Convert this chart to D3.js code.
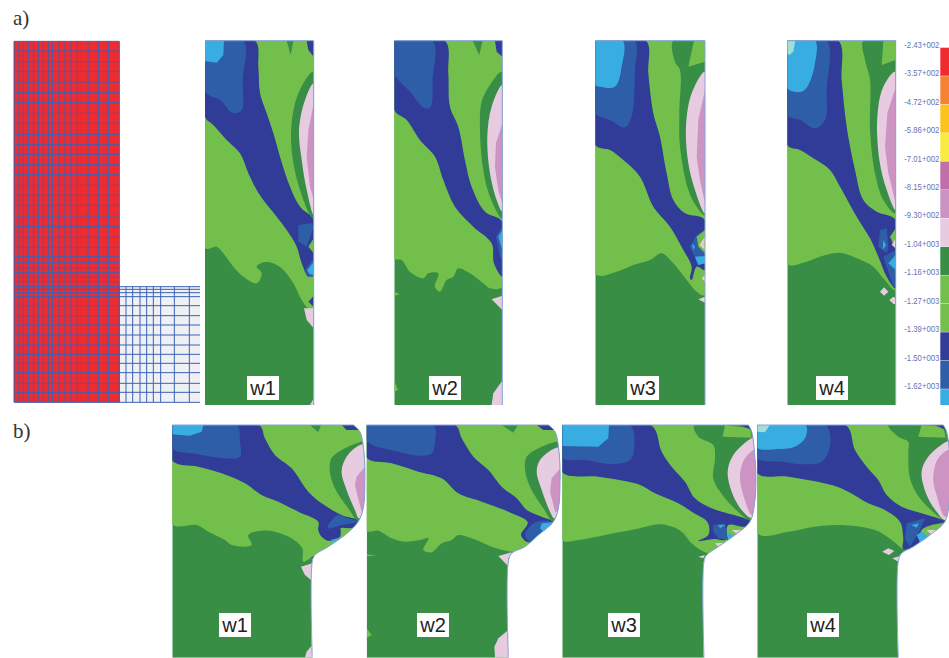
<!DOCTYPE html>
<html><head><meta charset="utf-8">
<script src="https://cdn.jsdelivr.net/npm/d3@7"></script>
<style>html,body{margin:0;padding:0;background:#fff}svg{display:block}</style>
</head><body><svg id="c" width="949" height="658"></svg>
<script>
// Legend
const legendTicks=["-2.43+002","-3.57+002","-4.72+002","-5.86+002","-7.01+002","-8.15+002","-9.30+002","-1.04+003","-1.16+003","-1.27+003","-1.39+003","-1.50+003","-1.62+003"];
const legendColors=["#ef2b30","#f58232","#fcc31c","#f9ec40","#c06fab","#cb93c3","#e6cbe1","#388e45","#72bf4b","#72bf4b","#313b98","#2f5ea8","#38ade2"];
const palette={dg:"#388e45",lg:"#72bf4b",nv:"#313b98",bl:"#2f5ea8",cy:"#38ade2",pa:"#e6cbe1",ma:"#cc93c3",te:"#a3dcd8",ye:"#fcc31c"};
// Mesh lines
const meshX=[42,57,70,85,100,115,130,145,158,177,195,213,232,264,295,325,358];
const meshGreyX=[358,378,398,420,440,460,482,523,568];
const meshY=[124,153,185,215,246,278,308,340,370,403,433,463,494,524,556,586,616,648,680,712,742,770,788,803,818,832,845,860,868,878,890,917,947,975,1005,1035,1063,1090,1118,1150,1177,1207];

// Contour bands per panel (flat x,y lists in read-off picture units)
const a1=[
["lg",[615,122,941,122,941,925,925,925,905,900,880,850,850,810,820,790,790,787,770,800,785,820,770,850,730,830,700,800,670,760,650,740,615,745]],
["nv",[615,122,765,122,775,200,780,280,800,340,820,400,840,470,870,560,900,620,941,660,941,800,925,830,905,790,890,740,860,690,830,650,790,600,770,570,745,520,720,460,680,420,640,375,615,350]],
["bl",[615,122,730,122,728,240,725,330,700,340,660,300,615,275]],
["cy",[615,122,672,122,670,165,650,188,615,183]],
["dg",[860,122,880,122,872,165]],["nv",[920,122,941,122,941,170,925,150]],
["dg",[941,215,910,250,885,310,873,400,880,490,900,570,930,645,941,655]],
["pa",[941,250,915,300,897,390,905,480,920,570,941,645]],
["ma",[941,310,925,390,920,470,930,560,941,600]],
["bl",[895,675,935,670,941,680,920,740,895,725]],
["lg",[941,715,925,740,941,760]],
["bl",[915,810,941,775,941,830,925,830]],["cy",[922,810,941,785,941,825,928,822]],
["nv",[941,888,925,905,941,920]],
["pa",[912,925,941,925,941,985,920,960]],
["pa",[941,1195,930,1215,941,1215]]];
const a2=[
["lg",[13,32,337,32,337,770,300,775,280,760,240,730,205,715,190,740,170,750,150,785,135,770,145,730,115,730,100,745,60,725,35,690,13,685]],
["lg",[13,785,30,793,13,797]],["lg",[13,1050,24,1080,13,1085]],
["nv",[13,32,165,32,175,130,180,230,205,290,225,390,245,470,285,545,337,575,337,740,312,700,305,640,250,590,195,530,160,450,135,380,90,330,50,270,13,240]],
["bl",[13,32,128,32,128,150,122,230,105,235,60,185,13,130]],
["dg",[248,32,278,32,268,75]],["nv",[315,32,337,32,337,80,320,65]],
["dg",[337,125,300,165,275,215,270,300,280,420,300,500,337,565]],
["pa",[337,165,305,230,292,320,300,430,320,510,337,545]],
["ma",[337,280,318,340,315,410,325,480,337,520]],
["bl",[337,590,318,620,330,680,337,690]],["cy",[337,600,325,620,337,660]],
["pa",[305,808,337,797,337,840]],["pa",[337,1052,310,1090,305,1125,337,1125]]];
const a3=[
["lg",[616,32,945,32,945,795,920,785,890,750,850,700,815,670,780,690,730,705,680,725,616,732]],
["dg",[850,32,945,32,945,555,920,530,895,480,870,350,868,250,870,120,855,95]],
["lg",[912,32,945,32,945,95,895,110]],
["pa",[945,125,905,190,888,290,895,400,915,480,945,550]],
["ma",[945,180,925,270,920,380,930,450,945,520]],
["nv",[616,32,768,32,775,130,790,250,810,320,830,430,850,510,885,550,945,570,945,720,920,710,905,750,900,745,905,710,880,660,840,590,790,530,750,440,700,390,660,360,616,345]],
["bl",[616,32,733,32,735,120,725,260,705,292,660,270,616,248]],
["cy",[616,32,698,32,695,110,675,170,630,170,616,165]],
["bl",[920,615,945,600,945,700,925,705,900,650]],
["cy",[905,640,915,650,910,660]],["cy",[915,680,945,678,945,700,925,705]],
["lg",[945,600,920,620,925,650,945,670]],["pa",[945,620,928,645,945,660]],["ye",[945,635,938,645,945,652]],
["lg",[945,720,925,735,935,760,945,765]],["pa",[945,735,935,745,945,755]],
["pa",[925,808,945,800,945,818]]];
const a4=[
["lg",[22,32,347,32,347,780,310,745,280,710,230,685,180,668,120,680,70,698,22,702]],
["dg",[250,32,347,32,347,550,310,510,285,430,270,300,270,150,255,90]],
["lg",[310,32,347,32,347,90,305,105]],
["pa",[347,125,310,170,292,260,298,390,320,480,347,540]],
["ma",[347,170,322,250,315,350,325,430,347,520]],
["nv",[22,32,175,32,185,150,200,290,225,420,250,510,290,545,347,570,347,775,320,740,295,680,270,625,230,560,180,470,150,420,100,385,60,360,22,345]],
["bl",[22,32,140,32,140,180,135,270,105,295,60,270,22,255]],
["cy",[22,32,105,32,105,100,85,165,65,185,22,175]],
["te",[22,32,46,32,40,65,28,75,22,70]],
["bl",[300,600,320,595,325,650,320,670,295,650]],["cy",[310,630,318,645,308,660]],
["bl",[347,660,310,680,340,770,347,770]],["cy",[325,700,347,675,347,720]],
["lg",[347,595,330,620,347,660]],["pa",[347,625,335,645,347,655]],
["pa",[300,785,312,772,325,785,312,797]],["pa",[328,810,340,800,347,805,347,822,340,822]]];
const b1=[
["lg",[22,30,600,30,600,430,440,430,415,440,412,400,380,370,330,350,290,347,250,360,260,390,200,390,180,375,130,350,95,330,22,328]],
["nv",[22,30,282,30,300,70,330,120,380,160,430,230,470,265,530,300,580,318,560,340,530,340,525,365,495,378,470,365,460,345,460,320,400,290,340,260,290,240,240,205,170,175,100,155,22,137]],
["bl",[22,30,215,30,225,80,225,125,180,130,100,118,22,100]],
["cy",[22,30,115,30,110,50,75,62,22,58]],
["bl",[490,330,520,300,550,310,580,320,530,330,490,340]],
["lg",[525,340,565,340,540,358]],["cy",[495,375,525,368,510,380]],["nv",[435,430,460,415,445,430]],
["dg",[435,30,468,30,460,52]],["nv",[530,30,575,30,580,45,545,45]],
["dg",[590,80,540,100,500,130,495,170,510,220,550,280,580,318,600,300,600,80]],
["pa",[585,90,545,125,530,170,545,225,570,285,582,310,600,300,600,90]],
["ma",[600,155,575,185,570,210,590,290,600,280]],
["pa",[408,455,442,445,442,498,420,480]],["pa",[442,690,425,710,420,728,442,728]]];
const b2=[
["lg",[605,30,1190,30,1190,410,1040,410,980,395,920,370,880,360,860,375,830,385,800,412,775,405,790,370,765,375,720,380,680,370,640,347,605,347]],
["lg",[605,418,635,422,605,424]],["lg",[605,640,620,660,605,668]],
["nv",[605,30,870,30,890,70,925,125,970,165,1010,215,1055,250,1085,285,1130,305,1165,322,1120,360,1090,382,1068,360,1088,322,1030,290,950,260,880,235,830,190,760,170,680,145,605,128]],
["bl",[605,30,805,30,810,80,800,115,770,122,700,110,605,78]],
["bl",[1090,340,1115,320,1165,322,1110,370,1095,380,1080,360]],["cy",[1130,325,1165,322,1135,350,1125,340]],
["dg",[1010,30,1058,30,1045,53]],["nv",[1115,30,1165,30,1172,45,1135,45]],
["dg",[1175,80,1130,95,1085,125,1080,165,1095,215,1135,280,1165,320,1190,300,1190,80]],
["pa",[1170,100,1125,135,1115,170,1130,225,1155,290,1168,310,1190,290,1190,100]],
["ma",[1190,155,1160,190,1155,230,1170,290,1190,290]],
["pa",[1000,423,1040,412,1030,430,1028,452]],["pa",[1030,645,1000,670,988,695,990,728,1030,728]]];
const b3=[
["lg",[22,30,603,30,603,415,460,415,410,385,380,350,320,328,240,343,150,360,70,375,22,375]],
["dg",[418,30,603,30,603,330,585,320,510,250,475,190,480,130,475,90,430,65]],
["lg",[510,30,585,40,590,68,503,65]],["nv",[555,30,580,30,590,45]],
["pa",[590,70,535,120,518,170,530,230,560,285,590,310,603,300,603,70]],
["ma",[603,105,570,130,555,180,565,240,590,300,603,280]],
["nv",[22,30,288,30,320,110,350,155,390,200,420,250,470,280,585,320,570,335,520,330,510,375,480,372,430,378,460,360,458,322,410,290,370,265,300,235,250,208,130,185,22,172]],
["bl",[22,30,225,30,238,95,225,135,170,147,90,135,22,128]],
["cy",[22,30,162,30,160,70,130,95,22,93]],
["bl",[475,330,510,325,520,375,490,370,475,350]],["cy",[490,330,510,330,495,340]],["cy",[515,360,530,355,540,365,525,378]],
["lg",[525,335,570,335,530,360]],["pa",[530,345,560,345,550,360]],["ye",[545,350,555,350,550,358]],
["lg",[470,385,505,375,510,385,480,400]],["pa",[480,385,505,383,490,395]],["pa",[430,425,450,420,445,430]]];
const b4=[
["lg",[607,30,1187,30,1187,410,1050,405,1040,400,1010,375,960,345,860,330,780,335,700,350,607,355]],
["dg",[1000,30,1187,30,1187,330,1170,320,1095,250,1065,190,1060,110,1060,80,1030,65]],
["lg",[1100,30,1165,35,1172,68,1090,65]],["nv",[1140,30,1165,30,1172,45]],
["pa",[1175,80,1120,125,1100,170,1115,240,1145,290,1170,315,1187,300,1187,80]],
["ma",[1187,105,1150,130,1135,190,1145,240,1170,305,1187,280]],
["nv",[607,30,872,30,900,105,935,155,970,195,995,240,1040,275,1100,295,1170,320,1130,330,1100,345,1090,390,1045,403,1045,370,1035,320,990,285,940,265,880,230,830,210,700,185,607,175]],
["bl",[607,30,812,30,825,95,800,140,750,148,680,140,607,130]],
["cy",[607,30,752,30,750,70,720,95,670,102,607,98]],["te",[607,30,645,30,630,52,607,50]],
["bl",[1055,325,1110,310,1095,345,1065,395,1050,370]],["cy",[1070,330,1092,325,1085,338]],["cy",[1085,360,1100,350,1120,365,1095,380]],
["lg",[1115,335,1165,330,1125,355]],["pa",[1115,345,1150,345,1130,360]],
["pa",[982,410,1000,400,1018,408,1002,420]],["pa",[1012,430,1035,423,1030,440]]];
// Outlines of the necked panels (b)
const b1Edge=[22,30,565,30,585,50,597,110,600,200,595,280,580,320,540,360,490,395,450,420,442,440,442,728,22,728];
const b2Edge=[605,30,1150,30,1170,50,1182,110,1185,200,1180,280,1165,320,1120,360,1080,395,1040,415,1030,440,1030,728,605,728];
const b3Edge=[22,30,580,30,590,50,600,130,603,200,598,270,585,320,540,360,490,395,455,420,447,440,447,728,22,728];
const b4Edge=[607,30,1165,30,1175,50,1185,130,1187,200,1182,270,1170,320,1125,360,1075,395,1040,415,1030,440,1030,728,607,728];

// Panels: data frame, pixel frame
const panels=[
{id:"a1",bands:a1,label:"w1",dx:[615,941],dy:[122,1215],px:[205,313.7],py:[40.7,405],box:[247,376]},
{id:"a2",bands:a2,label:"w2",dx:[13,337],dy:[32,1125],px:[394.3,502.3],py:[40.7,405],box:[429,376]},
{id:"a3",bands:a3,label:"w3",dx:[616,945],dy:[32,1125],px:[595.3,705],py:[40.7,405],box:[627,376]},
{id:"a4",bands:a4,label:"w4",dx:[22,347],dy:[32,1125],px:[787.3,895.7],py:[40.7,405],box:[816,376]},
{id:"b1",bands:b1,edge:b1Edge,label:"w1",dx:[22,603],dy:[30,728],px:[172.3,365.9],py:[425,657.7],box:[219,613]},
{id:"b2",bands:b2,edge:b2Edge,label:"w2",dx:[605,1190],dy:[30,728],px:[366.7,561.7],py:[425,657.7],box:[417,613]},
{id:"b3",bands:b3,edge:b3Edge,label:"w3",dx:[22,603],dy:[30,728],px:[562.3,756],py:[425,657.7],box:[608,613]},
{id:"b4",bands:b4,edge:b4Edge,label:"w4",dx:[607,1187],dy:[30,728],px:[757.3,950.6],py:[425,657.7],box:[807,613]}];

const svg=d3.select("#c");
const toPts=f=>d3.range(0,f.length,2).map(i=>[f[i],f[i+1]]);
const defs=svg.append("defs");

// mesh
const mx=d3.scaleLinear().domain([0,3]).range([0,1]);
const meshG=svg.append("g");
meshG.append("rect").attr("x",mx(42)).attr("y",mx(meshY[0])).attr("width",mx(358-42)).attr("height",mx(1207-meshY[0])).attr("fill",legendColors[0]);
meshG.append("rect").attr("x",mx(358)).attr("y",mx(860)).attr("width",mx(600-358)).attr("height",mx(1207-860)).attr("fill","#eef0f3");
meshG.selectAll("line.v").data(meshX).join("line").attr("class","v").attr("x1",mx).attr("x2",mx).attr("y1",mx(meshY[0])).attr("y2",mx(1207));
meshG.selectAll("line.g").data(meshGreyX).join("line").attr("class","g").attr("x1",mx).attr("x2",mx).attr("y1",mx(860)).attr("y2",mx(1207));
meshG.selectAll("line.h").data(meshY).join("line").attr("class","h").attr("x1",mx(42)).attr("x2",d=>mx(d>=860?600:358)).attr("y1",mx).attr("y2",mx);
meshG.selectAll("line").attr("stroke","#3b62b4").attr("stroke-width",1);

// contour panels
panels.forEach(p=>{
  const x=d3.scaleLinear().domain(p.dx).range(p.px), y=d3.scaleLinear().domain(p.dy).range(p.py);
  const straight=d3.line().x(d=>x(d[0])).y(d=>y(d[1]));
  const smooth=d3.line().x(d=>x(d[0])).y(d=>y(d[1])).curve(d3.curveCatmullRomClosed.alpha(0.5));
  const open=d3.line().x(d=>x(d[0])).y(d=>y(d[1])).curve(d3.curveCatmullRom.alpha(0.5));
  const pts=p.edge?toPts(p.edge):[[p.dx[0],p.dy[0]],[p.dx[1],p.dy[0]],[p.dx[1],p.dy[1]],[p.dx[0],p.dy[1]]];
  const tl=pts[0], bl=pts[pts.length-1], side=pts.slice(1,-1);
  const edgeOpen=`M${x(tl[0])},${y(tl[1])}`+(p.edge?open(side):straight(side)).replace(/^M/,"L");
  const outline=edgeOpen+`L${x(bl[0])},${y(bl[1])}Z`;
  defs.append("clipPath").attr("id","clip-"+p.id).append("path").attr("d",outline);
  const g=svg.append("g");
  const inner=g.append("g").attr("clip-path",`url(#clip-${p.id})`);
  inner.append("path").attr("d",outline).attr("fill",palette.dg);
  inner.selectAll("path.band").data(p.bands).join("path").attr("class","band")
    .attr("d",d=>{const q=toPts(d[1]);return q.length>5?smooth(q):straight(q)+"Z";}).attr("fill",d=>palette[d[0]]);
  g.append("path").attr("d",edgeOpen).attr("fill","none").attr("stroke","#86a2da").attr("stroke-width",1);
  g.append("rect").attr("x",p.box[0]).attr("y",p.box[1]).attr("width",32).attr("height",24).attr("fill","#fff");
  g.append("text").attr("x",p.box[0]+16).attr("y",p.box[1]+19).attr("text-anchor","middle")
    .attr("font-family","Liberation Sans, Arial, sans-serif").attr("font-size",20).attr("fill","#222").text(p.label);
});

// legend
const ly=d3.scaleBand().domain(d3.range(legendColors.length)).range([47.7,47.7+28.46*legendColors.length]);
defs.append("clipPath").attr("id","clip-legend").append("rect").attr("x",935).attr("y",40).attr("width",20).attr("height",365);
svg.append("g").attr("clip-path","url(#clip-legend)").selectAll("rect").data(legendColors).join("rect")
  .attr("x",940.3).attr("width",9).attr("y",(d,i)=>ly(i)).attr("height",ly.bandwidth()-0.4).attr("fill",d=>d);
svg.append("g").selectAll("text").data(legendTicks).join("text")
  .attr("x",939.3).attr("y",(d,i)=>ly(i)).attr("text-anchor","end")
  .attr("font-family","Liberation Sans Narrow, Liberation Sans, sans-serif").attr("font-size",8.5)
  .attr("textLength",35).attr("lengthAdjust","spacingAndGlyphs").attr("fill","#6b70b4").text(d=>d);

// panel letters
svg.selectAll("text.letter").data([["a)",13,25],["b)",13,438]]).join("text").attr("class","letter")
  .attr("x",d=>d[1]).attr("y",d=>d[2]).attr("font-family","Liberation Serif, serif").attr("font-size",21).attr("fill","#333").text(d=>d[0]);
</script></body></html>
